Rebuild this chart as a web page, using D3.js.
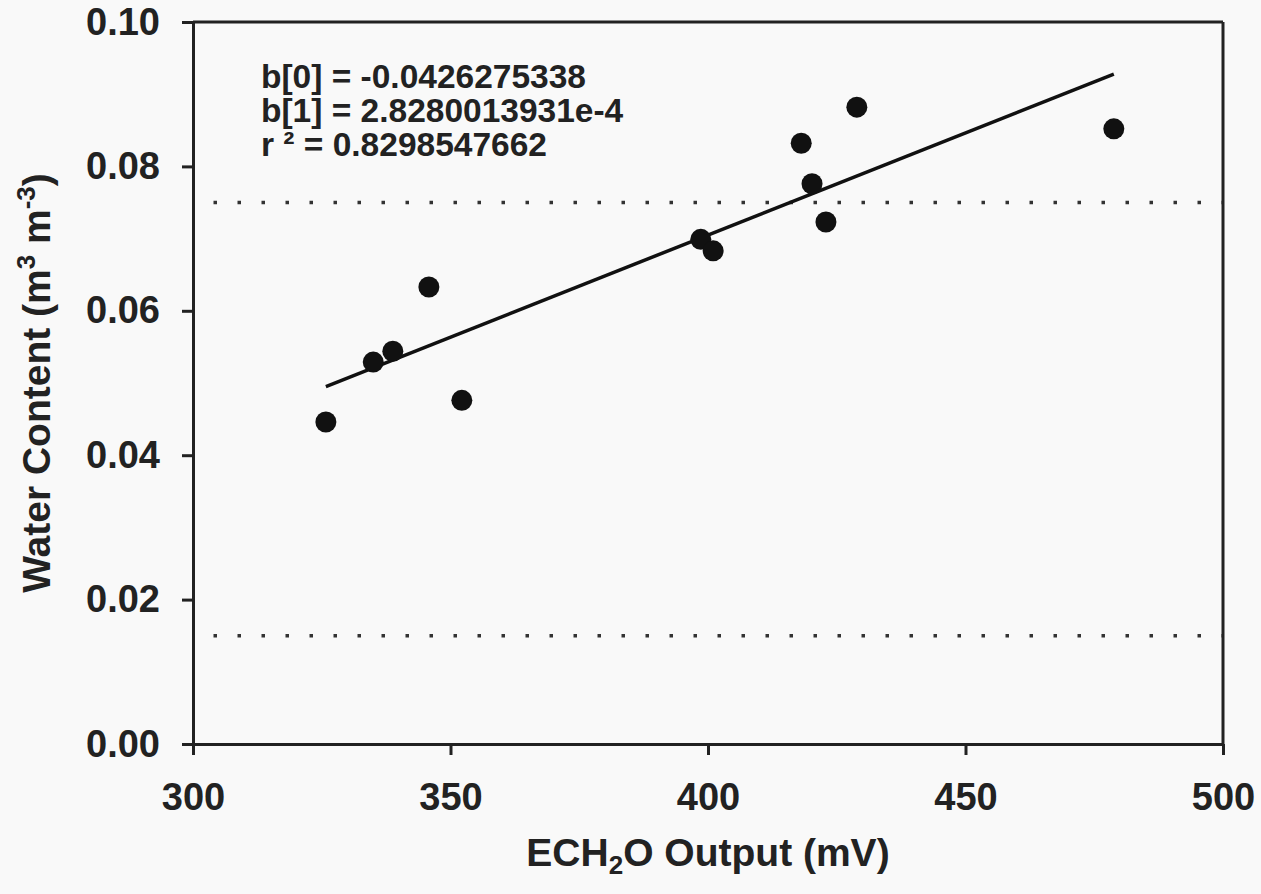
<!DOCTYPE html>
<html>
<head>
<meta charset="utf-8">
<script src="https://cdn.jsdelivr.net/npm/d3@7"></script>
<style>
  body { margin: 0; background: #f9f9f9; }
  svg text { font-family: "Liberation Sans", Arial, sans-serif; font-weight: bold; fill: #222; }
</style>
</head>
<body>
<svg id="chart"></svg>
<script>
// ECH2O output (mV) vs measured water content
const outputMv = [325.8, 335.0, 338.8, 345.8, 352.2, 398.6, 401.0, 418.1, 420.2, 422.9, 428.9, 478.8];
const waterContent = [0.0446, 0.0529, 0.0544, 0.0633, 0.0476, 0.0699, 0.0683, 0.0832, 0.0776, 0.0723, 0.0882, 0.0852];

// regression coefficients printed on the chart
const b0 = -0.0426275338;
const b1 = 2.8280013931e-4;
const fitLabels = ['b[0] = -0.0426275338', 'b[1] = 2.8280013931e-4', 'r \u00b2 = 0.8298547662'];

// dotted reference levels
const refLevels = [0.075, 0.015];

const xTicks = [300, 350, 400, 450, 500];
const yTicks = [0.00, 0.02, 0.04, 0.06, 0.08, 0.10];

const width = 1261, height = 894;
const margin = { top: 22, right: 35, bottom: 150, left: 193 };
const innerW = 1223 - margin.left;
const innerH = 744 - margin.top;
const ink = '#222';

const svg = d3.select('#chart')
    .attr('width', width)
    .attr('height', height);

const chart = svg.append('g')
    .attr('transform', `translate(${margin.left}, ${margin.top})`);

const x = d3.scaleLinear().domain([300, 500]).range([0, innerW]);
const y = d3.scaleLinear().domain([0, 0.10]).range([innerH, 0]);

// dotted horizontal lines
chart.selectAll('.ref')
    .data(refLevels)
    .join('line')
    .attr('class', 'ref')
    .attr('x1', 0)
    .attr('x2', innerW)
    .attr('y1', d => y(d))
    .attr('y2', d => y(d))
    .attr('stroke', '#333')
    .attr('stroke-width', 3.5)
    .attr('stroke-dasharray', '3.5 20.5')
    .attr('stroke-dashoffset', 3.5);

// frame (top and right)
chart.append('line')
    .attr('x1', 0).attr('x2', innerW)
    .attr('y1', 0).attr('y2', 0)
    .attr('stroke', ink).attr('stroke-width', 3);
chart.append('line')
    .attr('x1', innerW).attr('x2', innerW)
    .attr('y1', 0).attr('y2', innerH)
    .attr('stroke', ink).attr('stroke-width', 3);

// axes
const xAxis = chart.append('g')
    .attr('transform', `translate(0, ${innerH})`)
    .call(d3.axisBottom(x).tickValues(xTicks).tickSize(11).tickSizeOuter(0).tickPadding(28).tickFormat(d3.format('d')));

const yAxis = chart.append('g')
    .call(d3.axisLeft(y).tickValues(yTicks).tickSize(11).tickSizeOuter(0).tickPadding(22).tickFormat(d3.format('.2f')));

[xAxis, yAxis].forEach(ax => {
    ax.select('.domain').attr('stroke', ink).attr('stroke-width', 3);
    ax.selectAll('.tick line').attr('stroke', ink).attr('stroke-width', 3);
    ax.selectAll('.tick text')
        .attr('fill', ink)
        .style('font-size', '38px')
        .style('font-family', '"Liberation Sans", Arial, sans-serif')
        .style('font-weight', 'bold');
});

// regression line over the data range
const [xMin, xMax] = d3.extent(outputMv);
chart.append('line')
    .attr('x1', x(xMin))
    .attr('y1', y(b0 + b1 * xMin))
    .attr('x2', x(xMax))
    .attr('y2', y(b0 + b1 * xMax))
    .attr('stroke', '#111')
    .attr('stroke-width', 3.5);

// points
chart.selectAll('.pt')
    .data(outputMv.map((v, i) => ({ mv: v, wc: waterContent[i] })))
    .join('circle')
    .attr('class', 'pt')
    .attr('cx', d => x(d.mv))
    .attr('cy', d => y(d.wc))
    .attr('r', 10.5)
    .attr('fill', '#111');

// fit annotation
chart.selectAll('.fit')
    .data(fitLabels)
    .join('text')
    .attr('class', 'fit')
    .attr('x', 68)
    .attr('y', (d, i) => 66 + i * 34)
    .style('font-size', '33.5px')
    .text(d => d);

// x axis title
const xTitle = svg.append('text')
    .attr('x', margin.left + innerW / 2)
    .attr('y', 866)
    .attr('text-anchor', 'middle')
    .style('font-size', '39px');
xTitle.append('tspan').text('ECH');
xTitle.append('tspan').attr('baseline-shift', '-30%').style('font-size', '26px').text('2');
xTitle.append('tspan').text('O Output (mV)');

// y axis title
const yTitle = svg.append('text')
    .attr('transform', `translate(50, ${margin.top + innerH / 2}) rotate(-90)`)
    .attr('text-anchor', 'middle')
    .style('font-size', '39px');
yTitle.append('tspan').text('Water Content (m');
yTitle.append('tspan').attr('baseline-shift', 'super').style('font-size', '26px').text('3');
yTitle.append('tspan').text(' m');
yTitle.append('tspan').attr('baseline-shift', 'super').style('font-size', '26px').text('-3');
yTitle.append('tspan').text(')');
</script>
</body>
</html>
